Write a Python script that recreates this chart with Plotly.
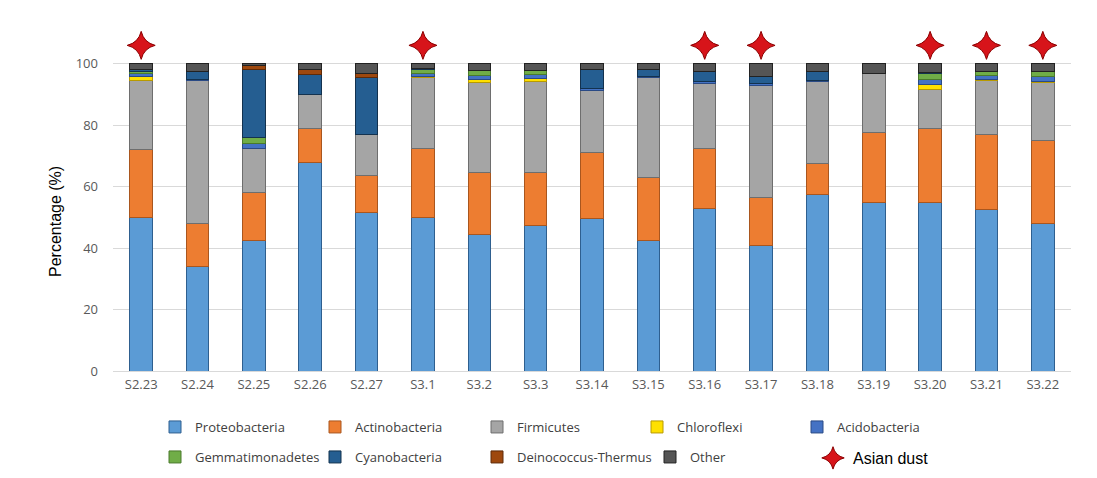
import plotly.graph_objects as go

categories = ["S2.23", "S2.24", "S2.25", "S2.26", "S2.27", "S3.1", "S3.2", "S3.3", "S3.14",
              "S3.15", "S3.16", "S3.17", "S3.18", "S3.19", "S3.20", "S3.21", "S3.22"]

proteobacteria = [50, 34, 42.5, 68, 51.5, 50, 44.5, 47.5, 49.5, 42.5, 53, 41, 57.5, 55, 55, 52.5, 48]
actinobacteria = [22, 14, 15.5, 11, 12, 22.5, 20, 17, 21.5, 20.5, 19.5, 15.5, 10, 22.5, 24, 24.5, 27]
firmicutes = [22.5, 46.5, 14.5, 11, 13.5, 23, 29.5, 29.8, 20.3, 32.5, 21.2, 36.5, 26.7, 19.5, 12.5, 17.6, 18.8]
chloroflexi = [1.5, 0, 0, 0, 0, 0.3, 1, 1, 0, 0, 0, 0, 0, 0, 1.7, 0.3, 0.5]
acidobacteria = [1, 0.5, 1.5, 0, 0, 1.2, 1.3, 1.3, 0.5, 0.3, 0.5, 0.5, 0.4, 0, 1.8, 1.3, 1.5]
gemmatimonadetes = [0.5, 0, 2, 0, 0, 1.2, 1.5, 1.3, 0, 0, 0, 0, 0, 0, 1.9, 1.3, 1.6]
cyanobacteria = [0.5, 2.5, 22, 6.5, 18.5, 0.3, 0, 0, 6.5, 2.5, 3.3, 2.5, 3, 0, 0.3, 0, 0]
deinococcus = [0, 0, 1.5, 1.7, 1.5, 0, 0, 0, 0, 0, 0, 0, 0, 0, 0, 0, 0]
other = [2, 2.5, 0.5, 1.8, 3, 1.5, 2.2, 2.1, 1.7, 1.7, 2.5, 4, 2.4, 3, 2.8, 2.5, 2.6]

dust_samples = ["S2.23", "S3.1", "S3.16", "S3.17", "S3.20", "S3.21", "S3.22"]
dust_marker_level = [106, 106, 106, 106, 106, 106, 106]

series = [
    ("Proteobacteria", proteobacteria, "#5B9BD5", "#2E5F8F"),
    ("Actinobacteria", actinobacteria, "#ED7D31", "#A9561E"),
    ("Firmicutes", firmicutes, "#A5A5A5", "#6E6E6E"),
    ("Chloroflexi", chloroflexi, "#FFE000", "#B89A00"),
    ("Acidobacteria", acidobacteria, "#4472C4", "#2A4A85"),
    ("Gemmatimonadetes", gemmatimonadetes, "#70AD47", "#4A7A2C"),
    ("Cyanobacteria", cyanobacteria, "#255E91", "#13324F"),
    ("Deinococcus-Thermus", deinococcus, "#9E480E", "#5E2A08"),
    ("Other", other, "#555555", "#222222"),
]

# page is offset by the body margin; target plot area on screen: x 113..1071, y 30..371
OFF = 8
W, H = 1097, 478
SX0, SX1, SY0, SY1 = 113, 1071, 30, 371
L, T = SX0 - OFF, SY0 - OFF
R, B = W - (SX1 - OFF), H - (SY1 - OFF)
pw, ph = SX1 - SX0, SY1 - SY0

def px_x(px):
    return (px - SX0) / pw

def px_y(py):
    return (SY1 - py) / ph

legend_text_start = [195, 355, 517, 677, 837, 195, 355, 517, 690]
legend_rows = [427, 427, 427, 427, 427, 457, 457, 457, 457]
TEXT_OFFSET = 40

fig = go.Figure()
layout_legends = {}
for i, (name, vals, col, lcol) in enumerate(series):
    lname = "legend" if i == 0 else f"legend{i + 1}"
    fig.add_trace(go.Bar(
        x=categories, y=vals, name=name,
        marker=dict(color=col, line=dict(color=lcol, width=1)),
        legend=lname,
    ))
    layout_legends[lname] = dict(
        x=px_x(legend_text_start[i] - TEXT_OFFSET), y=px_y(legend_rows[i]),
        xanchor="left", yanchor="middle", orientation="h",
        bgcolor="rgba(0,0,0,0)",
        font=dict(family="Open Sans, Roboto", size=13, color="#404040"),
    )

fig.add_trace(go.Scatter(
    x=dust_samples, y=dust_marker_level, mode="markers", name="Asian dust",
    marker=dict(symbol="star-diamond", size=20, color="#D7141A", line=dict(color="#8B0000", width=1)),
    legend="legend10",
))
layout_legends["legend10"] = dict(
    x=px_x(853 - TEXT_OFFSET), y=px_y(458), xanchor="left", yanchor="middle",
    orientation="h", itemsizing="trace", bgcolor="rgba(0,0,0,0)",
    font=dict(family="Liberation Sans, Arial", size=16, color="#000000"),
)

fig.update_layout(
    width=W, height=H,
    margin=dict(l=L, r=R, t=T, b=B, autoexpand=False),
    barmode="stack", bargap=0.6,
    plot_bgcolor="white", paper_bgcolor="white",
    showlegend=True,
    **layout_legends,
)
fig.update_xaxes(
    type="category", range=[-0.5, len(categories) - 0.5],
    showline=False, showgrid=False, ticks="", ticklabelstandoff=4,
    tickfont=dict(family="Open Sans, Liberation Sans", size=13, color="#595959"),
)
fig.update_yaxes(
    range=[0, 111], tickvals=[0, 20, 40, 60, 80, 100],
    showgrid=True, gridcolor="#D9D9D9", gridwidth=1,
    zeroline=True, zerolinecolor="#D9D9D9", zerolinewidth=1,
    showline=False, ticks="", ticklabelstandoff=14,
    tickfont=dict(family="Open Sans, Liberation Sans", size=13, color="#595959"),
)
fig.add_annotation(
    text="Percentage (%)", xref="paper", yref="paper",
    x=px_x(56), y=px_y(222), xanchor="center", yanchor="middle",
    textangle=-90, showarrow=False,
    font=dict(family="Liberation Sans, Arial", size=16, color="#000000"),
)

fig.write_html("out.html")
